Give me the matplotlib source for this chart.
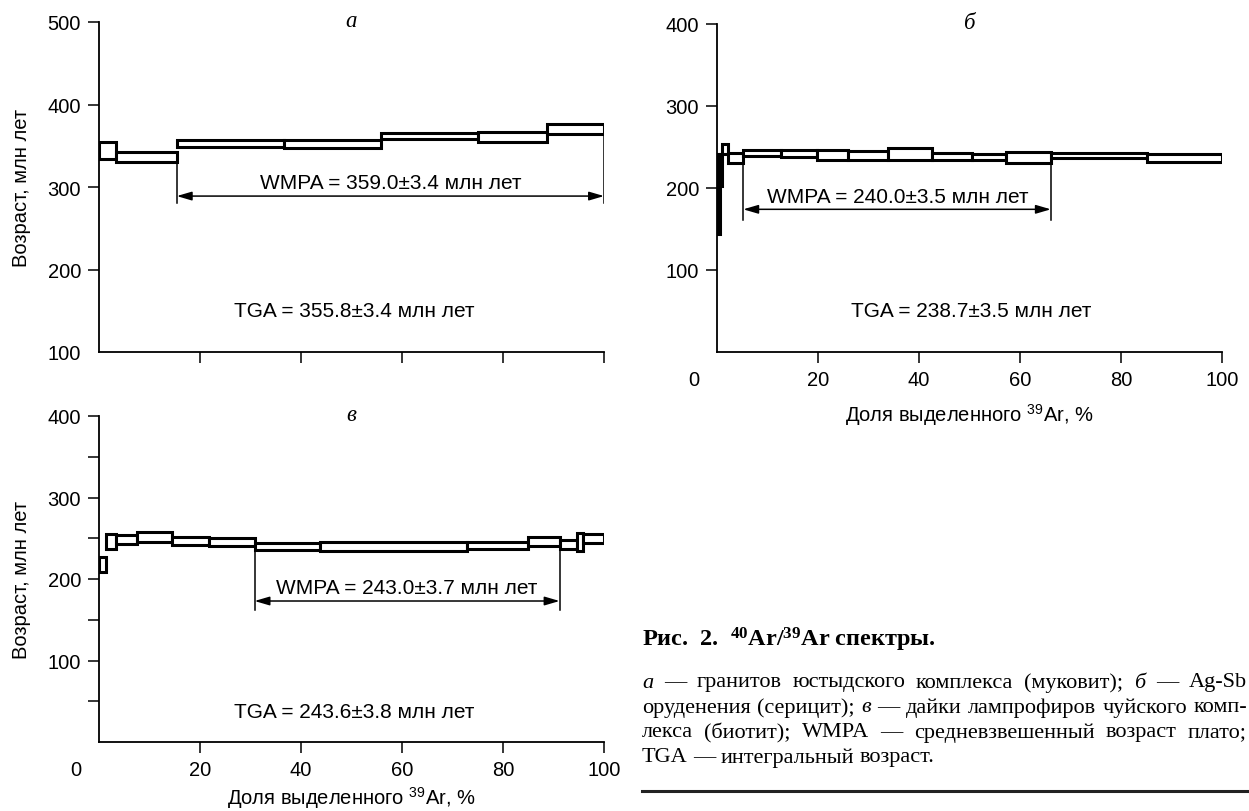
import matplotlib
matplotlib.use('Agg')
import matplotlib.pyplot as plt
import numpy as np

plt.rcParams['font.family'] = ['Liberation Sans', 'DejaVu Sans']
plt.rcParams['mathtext.fontset'] = 'custom'
plt.rcParams['mathtext.rm'] = 'Liberation Sans'
plt.rcParams['mathtext.bf'] = 'Liberation Serif:bold'

# --- data (cumulative 39Ar %, age bounds in Ma) ---
a_edges = [0, 3.3, 15.4, 36.7, 55.9, 75.1, 88.7, 100]
a_lo = [334, 330, 348, 347, 358, 355, 364]
a_hi = [355, 343, 357, 357, 365, 367, 376]
a_plateau = (15.4, 100)
a_wmpa = 'WMPA = 359.0±3.4 млн лет'
a_tga = 'TGA = 355.8±3.4 млн лет'

b_edges = [0, 0.5, 0.9, 2.2, 5.2, 12.7, 19.8, 25.9, 33.8, 42.5, 50.4, 57.3, 66.1, 85.1, 100]
b_lo = [144, 203, 242, 230, 239.5, 238, 234.6, 234.6, 234.6, 233.8, 234, 230.5, 236.4, 232]
b_hi = [242, 241, 254, 243, 246.4, 246, 246, 244.8, 248.4, 243, 242, 244.3, 242.6, 241.5]
b_plateau = (5.2, 66.1)
b_wmpa = 'WMPA = 240.0±3.5 млн лет'
b_tga = 'TGA = 238.7±3.5 млн лет'

c_edges = [0, 1.4, 3.4, 7.6, 14.4, 21.7, 30.8, 43.7, 72.9, 85.0, 91.2, 94.6, 95.9, 100]
c_lo = [208, 237, 243.5, 245.5, 242, 241, 236, 234, 237, 240, 237, 234, 244]
c_hi = [227, 255, 253.5, 257.5, 251, 250, 244, 245, 245, 251, 248, 257, 255]
c_plateau = (30.8, 91.2)
c_wmpa = 'WMPA = 243.0±3.7 млн лет'
c_tga = 'TGA = 243.6±3.8 млн лет'

xticks = [20, 40, 60, 80, 100]
xlabel = 'Доля выделенного $^{39}$Ar, %'
ylabel = 'Возраст, млн лет'

W, H = 1249, 812
fig = plt.figure(figsize=(W / 100, H / 100), dpi=100)

fs = 14.5
fs_txt = 15


def box(l, b, w, h):
    return [l / W, 1 - b / H, w / W, h / H]


def spectrum(ax, edges, lo, hi, plateau, arrow_y, line_bot, wmpa, wmpa_xy, tga, tga_xy, panel):
    edges = np.array(edges)
    lo = np.array(lo)
    hi = np.array(hi)
    ax.bar(edges[:-1], hi - lo, bottom=lo, width=np.diff(edges), align='edge',
           facecolor='white', edgecolor='black', linewidth=2.2, zorder=3)
    # plateau marker
    for xp in plateau:
        i = np.searchsorted(edges, xp) - 1
        i = min(max(i, 0), len(lo) - 1)
        ax.plot([xp, xp], [lo[i], line_bot], color='black', lw=1.1, zorder=2)
    ax.annotate('', xy=(plateau[1], arrow_y), xytext=(plateau[0], arrow_y),
                arrowprops=dict(arrowstyle='<|-|>,head_length=0.75,head_width=0.22',
                                color='black', lw=1.1, shrinkA=0, shrinkB=0,
                                mutation_scale=12))
    ax.text(*wmpa_xy, wmpa, ha='center', va='center', fontsize=fs_txt)
    ax.text(*tga_xy, tga, ha='center', va='center', fontsize=fs_txt)
    ax.annotate(panel, xy=(0.5, 1.0), xycoords='axes fraction', xytext=(0, 1),
                textcoords='offset points', ha='center', va='center',
                fontsize=16.5, family='Liberation Serif', style='italic')

    ax.set_xlim(0, 100)
    ax.set_xticks(xticks)
    for s in ['top', 'right']:
        ax.spines[s].set_visible(False)
    for s in ['left', 'bottom']:
        ax.spines[s].set_linewidth(1.3)
    ax.tick_params(direction='out', length=8, width=1.1, labelsize=fs, pad=5)
    ax.tick_params(which='minor', direction='out', length=8, width=1.1)


def zero_label(ax):
    ax.annotate('0', xy=(-4.5, 0), xycoords=('data', 'axes fraction'),
                xytext=(0, -13), textcoords='offset points',
                ha='center', va='top', fontsize=fs, annotation_clip=False)


# panel a
ax1 = fig.add_axes(box(99, 353, 505, 330))
spectrum(ax1, a_edges, a_lo, a_hi, a_plateau, 289, 281, a_wmpa, (57.7, 306),
         a_tga, (50.5, 150), 'а')
ax1.set_ylim(100, 500)
ax1.set_yticks([100, 200, 300, 400, 500])
ax1.set_xticklabels([])
ax1.yaxis.get_major_ticks()[0].tick1line.set_visible(False)
ax1.set_ylabel(ylabel, fontsize=fs)
ax1.yaxis.set_label_coords(-0.135, 0.5)

# panel б
ax2 = fig.add_axes(box(717, 353, 505, 328))
spectrum(ax2, b_edges, b_lo, b_hi, b_plateau, 174, 161, b_wmpa, (35.8, 190),
         b_tga, (50.3, 51), 'б')
ax2.set_ylim(0, 400)
ax2.set_yticks([100, 200, 300, 400])
ax2.set_xlabel(xlabel, fontsize=fs)
ax2.xaxis.set_label_coords(0.5, -0.15)
zero_label(ax2)

# panel в
ax3 = fig.add_axes(box(99, 743, 505, 326))
spectrum(ax3, c_edges, c_lo, c_hi, c_plateau, 173, 162, c_wmpa, (60.9, 189),
         c_tga, (50.5, 38), 'в')
ax3.set_ylim(0, 400)
ax3.set_yticks([100, 200, 300, 400])
ax3.set_yticks([50, 150, 250, 350], minor=True)
ax3.set_xlabel(xlabel, fontsize=fs)
ax3.xaxis.set_label_coords(0.5, -0.13)
ax3.set_ylabel(ylabel, fontsize=fs)
ax3.yaxis.set_label_coords(-0.135, 0.5)
zero_label(ax3)

# caption
fig.text(642 / W, 1 - 640 / H, 'Рис.  2.  $\\mathbf{^{40}}$Ar/$\\mathbf{^{39}}$Ar спектры.',
         fontsize=17.5, fontweight='bold', family='Liberation Serif', va='center')

cap_lines = [
    [('а', 'italic'), ('—', None), ('гранитов', None), ('юстыдского', None), ('комплекса', None),
     ('(муковит);', None), ('б', 'italic'), ('—', None), ('Ag-Sb', None)],
    [('оруденения', None), ('(серицит);', None), ('в', 'italic'), ('—', None), ('дайки', None),
     ('лампрофиров', None), ('чуйского', None), ('комп-', None)],
    [('лекса', None), ('(биотит);', None), ('WMPA', None), ('—', None), ('средневзвешенный', None),
     ('возраст', None), ('плато;', None)],
    [('TGA', None), ('—', None), ('интегральный', None), ('возраст.', None)],
]
cap_y = [683, 708, 733, 758]
x0, x1 = 642, 1247
renderer = fig.canvas.get_renderer()
for k, (words, yy) in enumerate(zip(cap_lines, cap_y)):
    items = []
    for w, st in words:
        t = fig.text(0, 1 - yy / H, w, fontsize=16, family='Liberation Serif',
                     style=st or 'normal', va='center')
        items.append(t)
    widths = [t.get_window_extent(renderer).width for t in items]
    if k < len(cap_lines) - 1:
        gap = (x1 - x0 - sum(widths)) / (len(items) - 1)
    else:
        gap = 5.5
    x = x0
    for t, wd in zip(items, widths):
        t.set_x(x / W)
        x += wd + gap

fig.add_artist(plt.Line2D([642 / W, 1249 / W], [1 - 792 / H, 1 - 792 / H],
                          color='#222222', lw=2.2))

fig.savefig('out.png', dpi=100)
